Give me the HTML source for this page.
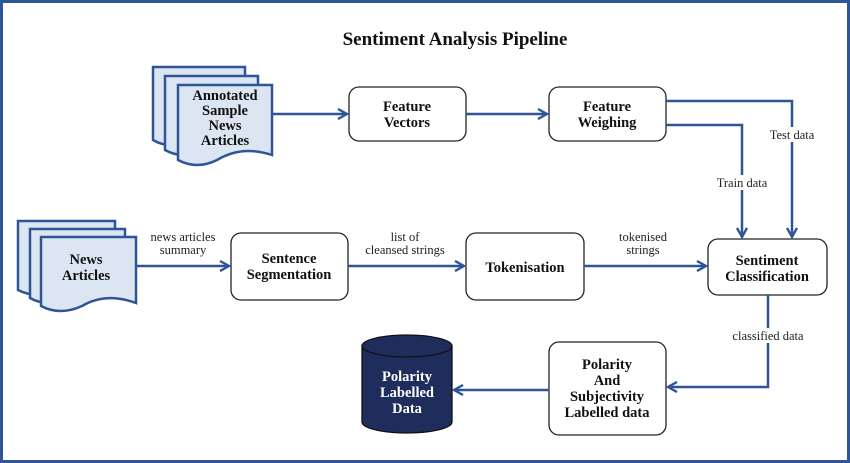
<!DOCTYPE html>
<html><head><meta charset="utf-8"><style>
html,body{margin:0;padding:0;background:#fff}
svg{display:block}
text{font-family:"Liberation Serif",serif;}
.b{font-weight:bold;font-size:14.5px;fill:#111}
.l{font-size:12.5px;fill:#222}
</style></head><body>
<svg width="850" height="463" viewBox="0 0 850 463" xmlns="http://www.w3.org/2000/svg">
<defs>
<marker id="a" markerWidth="12" markerHeight="12" refX="10" refY="6" orient="auto" markerUnits="userSpaceOnUse">
<path d="M1,1 L10,6 L1,11" fill="none" stroke="#2f5597" stroke-width="2.4"/>
</marker>
</defs>
<rect x="1.5" y="1.5" width="847" height="460" fill="none" stroke="#2f5597" stroke-width="3"/>
<text x="455" y="45" text-anchor="middle" style="font-weight:bold;font-size:19px" fill="#111">Sentiment Analysis Pipeline</text>

<g fill="#dce6f2" stroke="#2f5597" stroke-width="2.5">
<path d="M153,67 H245 V135 Q215,125 190,140 Q170,150 153,140 Z"/>
<path d="M165,76 H258 V145 Q228,135 203,150 Q183,160 165,150 Z"/>
<path d="M178,85 H272 V155 Q242,145 217,160 Q197,170 178,160 Z"/>
</g>
<g class="b" text-anchor="middle"><text x="225" y="100">Annotated</text><text x="225" y="115">Sample</text><text x="225" y="130">News</text><text x="225" y="145">Articles</text></g>

<g fill="#dce6f2" stroke="#2f5597" stroke-width="2.5">
<path d="M18,221 H115 V285 Q85,275 60,290 Q38,300 18,290 Z"/>
<path d="M30,229 H125 V293 Q95,283 70,298 Q48,308 30,298 Z"/>
<path d="M41,237 H136 V303 Q106,292 82,306 Q60,316 41,306 Z"/>
</g>
<g class="b" text-anchor="middle"><text x="86" y="264">News</text><text x="86" y="280">Articles</text></g>

<g fill="#fff" stroke="#222" stroke-width="1.3">
<rect x="349" y="87" width="117" height="54" rx="10"/>
<rect x="549" y="87" width="117" height="54" rx="10"/>
<rect x="231" y="233" width="117" height="67" rx="10"/>
<rect x="466" y="233" width="118" height="67" rx="10"/>
<rect x="708" y="239" width="119" height="56" rx="10"/>
<rect x="549" y="342" width="117" height="93" rx="10"/>
</g>
<g class="b" text-anchor="middle">
<text x="407" y="111">Feature</text><text x="407" y="127">Vectors</text>
<text x="607" y="111">Feature</text><text x="607" y="127">Weighing</text>
<text x="289" y="263">Sentence</text><text x="289" y="279">Segmentation</text>
<text x="525" y="272">Tokenisation</text>
<text x="767" y="265">Sentiment</text><text x="767" y="281">Classification</text>
<text x="607" y="369">Polarity</text><text x="607" y="385">And</text><text x="607" y="401">Subjectivity</text><text x="607" y="417">Labelled data</text>
</g>

<g fill="#1f2d5c" stroke="#111" stroke-width="1.3">
<path d="M362,346 V422 A45,11 0 0 0 452,422 V346 Z"/>
<ellipse cx="407" cy="346" rx="45" ry="11"/>
</g>
<g text-anchor="middle" style="font-weight:bold;font-size:14.5px" fill="#fff">
<text x="407" y="381">Polarity</text><text x="407" y="397">Labelled</text><text x="407" y="413">Data</text></g>

<g fill="none" stroke="#2f5597" stroke-width="2.5" marker-end="url(#a)">
<path d="M272,114 H347"/>
<path d="M466,114 H547"/>
<path d="M666,101 H792 V237"/>
<path d="M666,125 H742 V237"/>
<path d="M136,266 H229"/>
<path d="M348,266 H464"/>
<path d="M584,266 H706"/>
<path d="M768,295 V387 H668"/>
<path d="M549,390 H454"/>
</g>
<g class="l" text-anchor="middle">
<rect x="764" y="127" width="56" height="15" fill="#fff"/>
<text x="792" y="139">Test data</text>
<rect x="712" y="175" width="60" height="15" fill="#fff"/>
<text x="742" y="187">Train data</text>
<text x="183" y="241">news articles</text><text x="183" y="254">summary</text>
<text x="405" y="241">list of</text><text x="405" y="254">cleansed strings</text>
<text x="643" y="241">tokenised</text><text x="643" y="254">strings</text>
<rect x="726" y="328" width="84" height="15" fill="#fff"/>
<text x="768" y="340">classified data</text>
</g>
</svg>
</body></html>
